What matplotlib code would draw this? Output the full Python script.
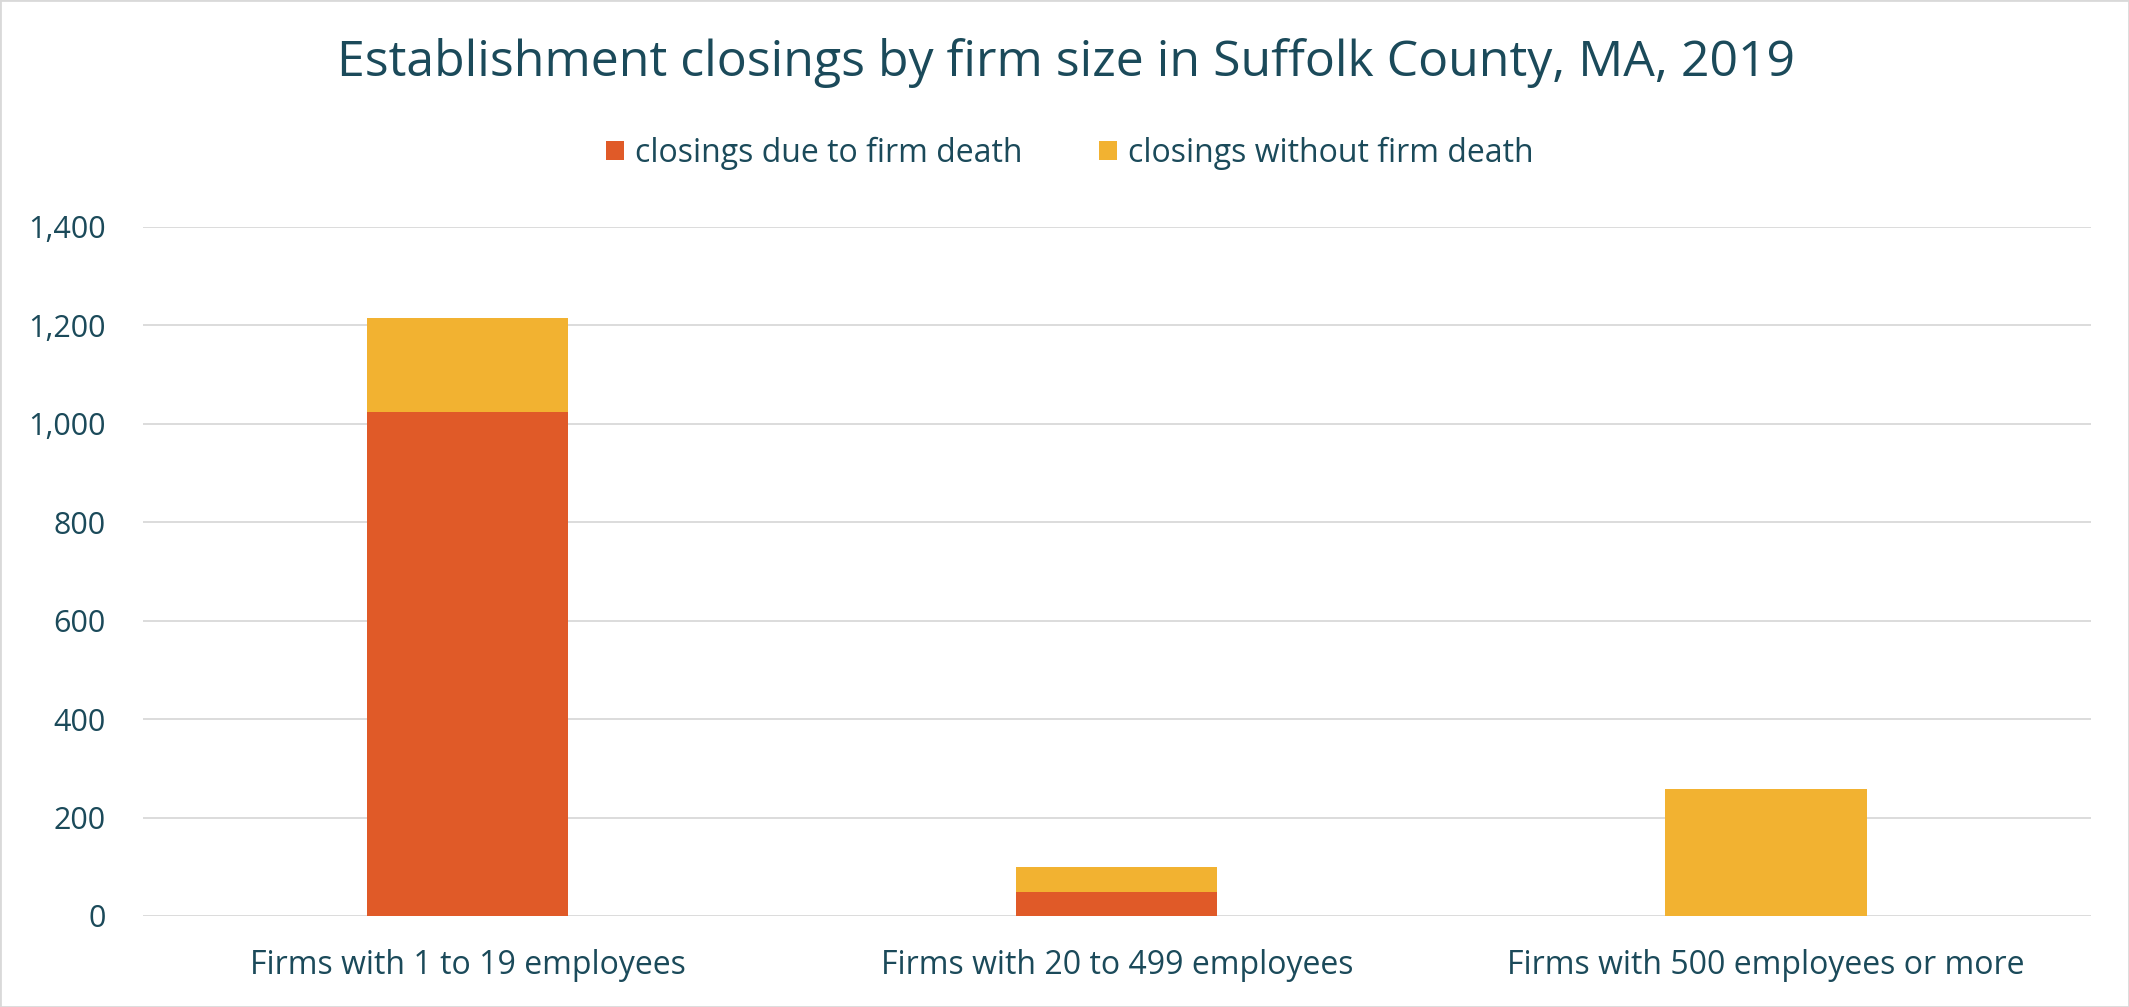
import matplotlib.pyplot as plt
from matplotlib.patches import Rectangle
from matplotlib.ticker import FuncFormatter

categories = ["Firms with 1 to 19 employees", "Firms with 20 to 499 employees",
              "Firms with 500 employees or more"]
firm_death = [1025, 48, 0]
no_firm_death = [190, 52, 258]
series_names = ["closings due to firm death", "closings without firm death"]
y_ticks = [0, 200, 400, 600, 800, 1000, 1200, 1400]

RED = "#E05A28"
GOLD = "#F2B231"
TEXT = "#1B4A5A"
GRID = "#D9D9D9"

plt.rcParams["font.family"] = ["Open Sans", "DejaVu Sans"]

fig = plt.figure(figsize=(21.29, 10.07), dpi=100)
fig.patch.set_facecolor("white")
ax = fig.add_axes([0.0672, 0.0904, 0.9148, 0.6842])

x = list(range(len(categories)))
w = 0.31
ax.bar(x, firm_death, width=w, color=RED, label=series_names[0], zorder=3)
ax.bar(x, no_firm_death, width=w, bottom=firm_death, color=GOLD,
       label=series_names[1], zorder=3)

ax.set_xlim(-0.5, 2.5)
ax.set_ylim(0, 1400)
ax.set_yticks(y_ticks)
ax.yaxis.set_major_formatter(FuncFormatter(lambda v, p: f"{int(v):,}"))
ax.set_xticks(x)
ax.set_xticklabels(categories)
ax.grid(axis="y", color=GRID, lw=1.3, zorder=0)
ax.set_axisbelow(True)
for s in ax.spines.values():
  s.set_visible(False)
ax.tick_params(axis="y", length=0, pad=27, labelsize=22, labelcolor=TEXT)
ax.tick_params(axis="x", length=0, pad=24, labelsize=23, labelcolor=TEXT)

fig.text(0.5007, 0.937, "Establishment closings by firm size in Suffolk County, MA, 2019",
         ha="center", va="center", fontsize=36, color=TEXT)

handles, labels = ax.get_legend_handles_labels()
fig.legend(handles, labels, loc="center", bbox_to_anchor=(0.5025, 0.848), ncol=2,
           frameon=False, fontsize=23, labelcolor=TEXT, handlelength=0.55,
           handleheight=0.55, handletextpad=0.35, columnspacing=2.4)

fig.patches.append(Rectangle((0, 0), 1, 1, transform=fig.transFigure, fill=False,
                             ec=GRID, lw=2))

fig.savefig("out.png", dpi=100, facecolor="white")
